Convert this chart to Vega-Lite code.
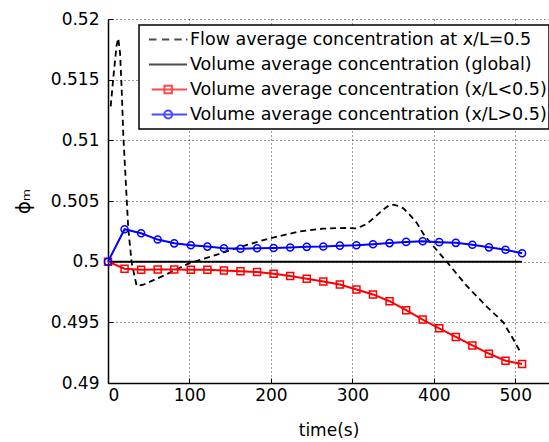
{
  "$schema": "https://vega.github.io/schema/vega-lite/v6.json",
  "width": 441,
  "height": 364,
  "autosize": {"type": "none"},
  "padding": {"left": 108, "top": 19, "right": 0, "bottom": 59},
  "background": "white",
  "config": {
    "view": {"stroke": null},
    "font": "DejaVu Sans",
    "axis": {
      "labelFont": "DejaVu Sans",
      "labelFontSize": 17,
      "labelColor": "black",
      "titleFont": "DejaVu Sans",
      "titleFontSize": 17,
      "titleFontWeight": "normal",
      "titleColor": "black",
      "domainColor": "black",
      "domainWidth": 1.5,
      "tickColor": "black",
      "tickWidth": 1,
      "tickSize": -5,
      "grid": true,
      "gridColor": "#111111",
      "gridDash": [1, 3],
      "gridWidth": 1,
      "gridOpacity": 0.85
    },
    "legend": {"strokeWidth": 1.5}
  },
  "data": {
    "values": [
      {"series": "flow", "t": 3.3, "phi": 0.5128},
      {"series": "flow", "t": 7, "phi": 0.5155},
      {"series": "flow", "t": 10.5, "phi": 0.5178},
      {"series": "flow", "t": 12.6, "phi": 0.5184},
      {"series": "flow", "t": 14.8, "phi": 0.5172},
      {"series": "flow", "t": 16.8, "phi": 0.5142},
      {"series": "flow", "t": 18.8, "phi": 0.5104},
      {"series": "flow", "t": 24.9, "phi": 0.5027},
      {"series": "flow", "t": 29.1, "phi": 0.4999},
      {"series": "flow", "t": 35.2, "phi": 0.498},
      {"series": "flow", "t": 43.3, "phi": 0.4981},
      {"series": "flow", "t": 70, "phi": 0.4989},
      {"series": "flow", "t": 100.7, "phi": 0.4999},
      {"series": "flow", "t": 130, "phi": 0.5005},
      {"series": "flow", "t": 162, "phi": 0.5012},
      {"series": "flow", "t": 186.6, "phi": 0.5017},
      {"series": "flow", "t": 210, "phi": 0.5021},
      {"series": "flow", "t": 235.7, "phi": 0.5025},
      {"series": "flow", "t": 264, "phi": 0.50272},
      {"series": "flow", "t": 290, "phi": 0.50278},
      {"series": "flow", "t": 305.3, "phi": 0.50275},
      {"series": "flow", "t": 317.6, "phi": 0.5031},
      {"series": "flow", "t": 328, "phi": 0.5037},
      {"series": "flow", "t": 338, "phi": 0.5043},
      {"series": "flow", "t": 345, "phi": 0.50465},
      {"series": "flow", "t": 350.3, "phi": 0.5047},
      {"series": "flow", "t": 356, "phi": 0.5046},
      {"series": "flow", "t": 362.6, "phi": 0.5044},
      {"series": "flow", "t": 370, "phi": 0.5039},
      {"series": "flow", "t": 379, "phi": 0.5032},
      {"series": "flow", "t": 387.1, "phi": 0.5023},
      {"series": "flow", "t": 395.3, "phi": 0.5016},
      {"series": "flow", "t": 415.8, "phi": 0.5},
      {"series": "flow", "t": 440.4, "phi": 0.498},
      {"series": "flow", "t": 465, "phi": 0.4963},
      {"series": "flow", "t": 485.3, "phi": 0.495},
      {"series": "flow", "t": 497.6, "phi": 0.4936},
      {"series": "flow", "t": 505.8, "phi": 0.4926},
      {"series": "global", "t": 0, "phi": 0.5},
      {"series": "global", "t": 508.33, "phi": 0.5},
      {"series": "lower", "t": 0, "phi": 0.5},
      {"series": "lower", "t": 20.33, "phi": 0.49942},
      {"series": "lower", "t": 40.66, "phi": 0.49934},
      {"series": "lower", "t": 61, "phi": 0.49936},
      {"series": "lower", "t": 81.33, "phi": 0.49936},
      {"series": "lower", "t": 101.66, "phi": 0.49934},
      {"series": "lower", "t": 122, "phi": 0.49934},
      {"series": "lower", "t": 142.33, "phi": 0.49928},
      {"series": "lower", "t": 162.66, "phi": 0.49922},
      {"series": "lower", "t": 183, "phi": 0.49914},
      {"series": "lower", "t": 203.33, "phi": 0.49901},
      {"series": "lower", "t": 223.66, "phi": 0.49881},
      {"series": "lower", "t": 244, "phi": 0.4986},
      {"series": "lower", "t": 264.33, "phi": 0.49837},
      {"series": "lower", "t": 284.66, "phi": 0.49812},
      {"series": "lower", "t": 305, "phi": 0.49771},
      {"series": "lower", "t": 325.33, "phi": 0.4973},
      {"series": "lower", "t": 345.66, "phi": 0.49674},
      {"series": "lower", "t": 366, "phi": 0.496},
      {"series": "lower", "t": 386.33, "phi": 0.49523},
      {"series": "lower", "t": 406.66, "phi": 0.49451},
      {"series": "lower", "t": 427, "phi": 0.4938},
      {"series": "lower", "t": 447.33, "phi": 0.4931},
      {"series": "lower", "t": 467.66, "phi": 0.49242},
      {"series": "lower", "t": 488, "phi": 0.49184},
      {"series": "lower", "t": 508.33, "phi": 0.49157},
      {"series": "upper", "t": 0, "phi": 0.5},
      {"series": "upper", "t": 20.33, "phi": 0.50267},
      {"series": "upper", "t": 40.66, "phi": 0.50234},
      {"series": "upper", "t": 61, "phi": 0.50182},
      {"series": "upper", "t": 81.33, "phi": 0.50151},
      {"series": "upper", "t": 101.66, "phi": 0.50136},
      {"series": "upper", "t": 122, "phi": 0.50124},
      {"series": "upper", "t": 142.33, "phi": 0.5011},
      {"series": "upper", "t": 162.66, "phi": 0.50107},
      {"series": "upper", "t": 183, "phi": 0.5011},
      {"series": "upper", "t": 203.33, "phi": 0.50112},
      {"series": "upper", "t": 223.66, "phi": 0.50117},
      {"series": "upper", "t": 244, "phi": 0.50122},
      {"series": "upper", "t": 264.33, "phi": 0.50125},
      {"series": "upper", "t": 284.66, "phi": 0.50132},
      {"series": "upper", "t": 305, "phi": 0.50135},
      {"series": "upper", "t": 325.33, "phi": 0.50143},
      {"series": "upper", "t": 345.66, "phi": 0.50153},
      {"series": "upper", "t": 366, "phi": 0.50163},
      {"series": "upper", "t": 386.33, "phi": 0.50169},
      {"series": "upper", "t": 406.66, "phi": 0.50161},
      {"series": "upper", "t": 427, "phi": 0.50155},
      {"series": "upper", "t": 447.33, "phi": 0.50139},
      {"series": "upper", "t": 467.66, "phi": 0.50118},
      {"series": "upper", "t": 488, "phi": 0.50098},
      {"series": "upper", "t": 508.33, "phi": 0.50069}
    ]
  },
  "encoding": {
    "x": {
      "field": "t",
      "type": "quantitative",
      "scale": {"domain": [0, 541.4], "nice": false, "zero": false},
      "axis": {"title": "time(s)", "values": [0, 100, 200, 300, 400, 500], "labelPadding": 9, "titlePadding": 19}
    },
    "y": {
      "field": "phi",
      "type": "quantitative",
      "scale": {"domain": [0.49, 0.52], "nice": false, "zero": false},
      "axis": {"title": "ϕₘ", "titleFontSize": 20, "values": [0.49, 0.495, 0.5, 0.505, 0.51, 0.515, 0.52], "format": ".3~f", "labelPadding": 14, "titlePadding": 17}
    }
  },
  "layer": [
    {
      "transform": [{"filter": "datum.series === 'flow'"}],
      "mark": {"type": "line", "color": "black", "strokeWidth": 1.8, "strokeDash": [6, 4], "clip": true}
    },
    {
      "transform": [{"filter": "datum.series === 'global'"}],
      "mark": {"type": "line", "color": "black", "strokeWidth": 2}
    },
    {
      "transform": [{"filter": "datum.series === 'lower'"}],
      "mark": {"type": "line", "color": "#ff0000", "strokeWidth": 2, "point": {"shape": "square", "filled": false, "size": 49, "strokeWidth": 1.5, "color": "#ff0000"}}
    },
    {
      "transform": [{"filter": "datum.series === 'upper'"}],
      "mark": {"type": "line", "color": "#0000ff", "strokeWidth": 2, "point": {"shape": "circle", "filled": false, "size": 50, "strokeWidth": 1.5, "color": "#0000ff"}}
    },
    {
      "transform": [{"filter": "false"}],
      "mark": {"type": "point", "filled": false, "strokeWidth": 1.5},
      "encoding": {
        "x": {"field": "t", "type": "quantitative"},
        "y": {"field": "phi", "type": "quantitative"},
        "shape": {
          "field": "series",
          "type": "nominal",
          "scale": {
            "domain": ["Flow average concentration at x/L=0.5", "Volume average concentration (global)", "Volume average concentration (x/L<0.5)", "Volume average concentration (x/L>0.5)"],
            "range": [
              "M-0.682,0H-0.341M-0.091,0H0.241M0.468,0H0.805M1,0H1.068",
              "M-0.682,0H1.045",
              "M-0.56,0H1.045M0.02,-0.17H0.36V0.17H0.02Z",
              "M-0.56,0H1.045M0.01,0A0.18,0.18 0 1,0 0.37,0A0.18,0.18 0 1,0 0.01,0Z"
            ]
          },
          "legend": {
            "orient": "none", "legendX": 31, "legendY": 6, "title": null,
            "labelFont": "DejaVu Sans", "labelFontSize": 17.5, "labelColor": "black", "labelLimit": 600,
            "labelOffset": 3, "symbolSize": 1936, "symbolStrokeWidth": 2, "clipHeight": 25,
            "rowPadding": 0, "padding": 2, "strokeColor": "black", "fillColor": "white"
          }
        },
        "color": {
          "field": "series",
          "type": "nominal",
          "scale": {
            "domain": ["Flow average concentration at x/L=0.5", "Volume average concentration (global)", "Volume average concentration (x/L<0.5)", "Volume average concentration (x/L>0.5)"],
            "range": ["black", "black", "#ff0000", "#0000ff"]
          },
          "legend": {
            "orient": "none", "legendX": 31, "legendY": 6, "title": null,
            "labelFont": "DejaVu Sans", "labelFontSize": 17.5, "labelColor": "black", "labelLimit": 600,
            "labelOffset": 3, "symbolSize": 1936, "symbolStrokeWidth": 2, "clipHeight": 25,
            "rowPadding": 0, "padding": 2, "strokeColor": "black", "fillColor": "white"
          }
        }
      }
    }
  ]
}
